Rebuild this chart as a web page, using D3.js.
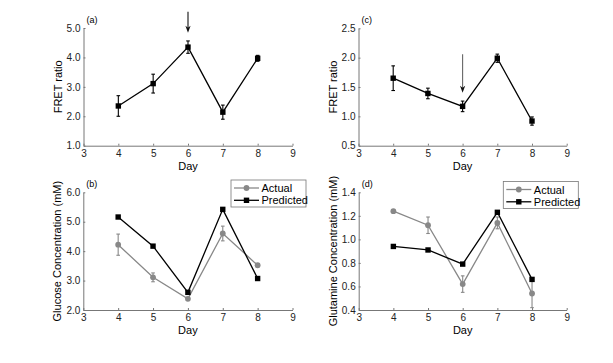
<!DOCTYPE html>
<html>
<head>
<meta charset="utf-8">
<script src="https://d3js.org/d3.v7.min.js"></script>
<style>
  body { margin: 0; background: #fff; }
  svg { font-family: "Liberation Sans", Arial, sans-serif; }
  .axis path, .axis line { stroke: #777; }
  .axis text { fill: #222; font-size: 10px; }
</style>
</head>
<body>
<svg width="613" height="363"></svg>
<script>
// data
var days = [4, 5, 6, 7, 8];
var xTicks = [3, 4, 5, 6, 7, 8, 9];

var fretA = [2.35, 3.11, 4.35, 2.14, 3.97];
var fretAErr = [0.35, 0.32, 0.21, 0.24, 0.1];
var fretC = [1.65, 1.39, 1.17, 1.99, 0.92];
var fretCErr = [0.21, 0.09, 0.09, 0.07, 0.07];

var glucoseActual = [4.22, 3.11, 2.38, 4.6, 3.52];
var glucoseActualErr = [0.36, 0.15, 0.05, 0.25, 0.05];
var glucosePredicted = [5.16, 4.17, 2.6, 5.42, 3.07];

var glutamineActual = [1.24, 1.12, 0.62, 1.14, 0.54];
var glutamineActualErr = [0.01, 0.07, 0.07, 0.05, 0.12];
var glutaminePredicted = [0.94, 0.91, 0.79, 1.23, 0.66];

var yTicksA = [1, 2, 3, 4, 5];
var yTicksC = [0.5, 1, 1.5, 2, 2.5];
var yTicksB = [2, 3, 4, 5, 6];
var yTicksD = [0.4, 0.6, 0.8, 1.0, 1.2, 1.4];

// arrows: [day, top value, tip value]
var arrowA = [6, 5.55, 4.84];
var arrowC = [6, 2.06, 1.40];

var svg = d3.select("svg");

function panel(opt) {
  var x = d3.scaleLinear().domain([3, 9]).range([opt.left, opt.right]);
  var y = d3.scaleLinear().domain(opt.ydom).range([opt.bottom, opt.top]);
  var g = svg.append("g");

  g.append("g").attr("class", "axis")
    .attr("transform", "translate(0," + opt.bottom + ")")
    .call(d3.axisBottom(x).tickValues(xTicks).tickSize(-2).tickSizeOuter(0).tickPadding(4)
      .tickFormat(d3.format("d")));
  g.append("g").attr("class", "axis")
    .attr("transform", "translate(" + opt.left + ",0)")
    .call(d3.axisLeft(y).tickValues(opt.yticks).tickSize(-2).tickSizeOuter(0).tickPadding(3)
      .tickFormat(d3.format(opt.fmt)));

  g.append("text").attr("x", (opt.left + opt.right) / 2).attr("y", opt.bottom + 24)
    .attr("text-anchor", "middle").attr("font-size", 11).text("Day");
  g.append("text")
    .attr("transform", "translate(" + (opt.left - 22) + "," + ((opt.top + opt.bottom) / 2) + ") rotate(-90)")
    .attr("text-anchor", "middle").attr("font-size", 11).text(opt.ylabel);
  g.append("text").attr("x", opt.left + 3).attr("y", opt.top - 5)
    .attr("font-size", 9).text(opt.tag);

  opt.series.forEach(function(s) {
    var pts = days.map(function(d, i) { return {d: d, v: s.values[i], e: s.err ? s.err[i] : 0}; });
    g.append("path").datum(pts)
      .attr("fill", "none").attr("stroke", s.color).attr("stroke-width", 1.3)
      .attr("d", d3.line().x(function(p) { return x(p.d); }).y(function(p) { return y(p.v); }));
    if (s.err) {
      var eb = g.append("g").attr("stroke", s.color).attr("stroke-width", 1.1);
      pts.forEach(function(p) {
        eb.append("line").attr("x1", x(p.d)).attr("x2", x(p.d))
          .attr("y1", y(p.v - p.e)).attr("y2", y(p.v + p.e));
        [p.v - p.e, p.v + p.e].forEach(function(v) {
          eb.append("line").attr("x1", x(p.d) - 1.8).attr("x2", x(p.d) + 1.8)
            .attr("y1", y(v)).attr("y2", y(v));
        });
      });
    }
    pts.forEach(function(p) {
      if (s.marker === "square") {
        g.append("rect").attr("x", x(p.d) - 2.7).attr("y", y(p.v) - 2.7)
          .attr("width", 5.4).attr("height", 5.4).attr("fill", s.color);
      } else {
        g.append("circle").attr("cx", x(p.d)).attr("cy", y(p.v)).attr("r", 2.9).attr("fill", s.color);
      }
    });
  });

  if (opt.arrow) {
    var a = opt.arrow, ax = x(a[0]), y0 = y(a[1]), y1 = y(a[2]);
    g.append("line").attr("x1", ax).attr("x2", ax).attr("y1", y0).attr("y2", y1 - 4)
      .attr("stroke", opt.arrowColor).attr("stroke-width", 1.1);
    g.append("path").attr("d", "M" + (ax - 2.6) + "," + (y1 - 7) + "L" + ax + "," + y1 + "L" + (ax + 2.6) + "," + (y1 - 7) + "L" + ax + "," + (y1 - 5) + "Z")
      .attr("fill", "#111");
  }

  if (opt.legend) {
    var lx = opt.legend[0], ly = opt.legend[1];
    g.append("rect").attr("x", lx).attr("y", ly).attr("width", 75).attr("height", 27)
      .attr("fill", "#fff").attr("stroke", "#777").attr("stroke-width", 0.8);
    opt.series.forEach(function(s, i) {
      var yy = ly + 8 + i * 12.3;
      g.append("line").attr("x1", lx + 3).attr("x2", lx + 28).attr("y1", yy).attr("y2", yy)
        .attr("stroke", s.color).attr("stroke-width", 1.3);
      if (s.marker === "square") {
        g.append("rect").attr("x", lx + 15.5 - 2.7).attr("y", yy - 2.7).attr("width", 5.4).attr("height", 5.4).attr("fill", s.color);
      } else {
        g.append("circle").attr("cx", lx + 15.5).attr("cy", yy).attr("r", 2.9).attr("fill", s.color);
      }
      g.append("text").attr("x", lx + 30.5).attr("y", yy + 4).attr("font-size", 11).text(s.name);
    });
  }
}

var grey = "#888", black = "#000";

panel({left: 83.5, right: 292.5, top: 28, bottom: 145.7, ydom: [1, 5], yticks: yTicksA, fmt: ".1f",
  ylabel: "FRET ratio", tag: "(a)", arrow: arrowA, arrowColor: "#111",
  series: [{name: "FRET", values: fretA, err: fretAErr, color: black, marker: "square"}]});

panel({left: 358.5, right: 566.7, top: 28.3, bottom: 145.7, ydom: [0.5, 2.5], yticks: yTicksC, fmt: ".1f",
  ylabel: "FRET ratio", tag: "(c)", arrow: arrowC, arrowColor: "#666",
  series: [{name: "FRET", values: fretC, err: fretCErr, color: black, marker: "square"}]});

panel({left: 83.3, right: 292.5, top: 192.3, bottom: 310, ydom: [2, 6], yticks: yTicksB, fmt: ".1f",
  ylabel: "Glucose Concentration (mM)", tag: "(b)", legend: [231, 180],
  series: [{name: "Actual", values: glucoseActual, err: glucoseActualErr, color: grey, marker: "circle"},
           {name: "Predicted", values: glucosePredicted, color: black, marker: "square"}]});

panel({left: 358.7, right: 566.7, top: 192.3, bottom: 310, ydom: [0.4, 1.4], yticks: yTicksD, fmt: ".1f",
  ylabel: "Glutamine Concentration (mM)", tag: "(d)", legend: [503.3, 181.5],
  series: [{name: "Actual", values: glutamineActual, err: glutamineActualErr, color: grey, marker: "circle"},
           {name: "Predicted", values: glutaminePredicted, color: black, marker: "square"}]});
</script>
</body>
</html>
